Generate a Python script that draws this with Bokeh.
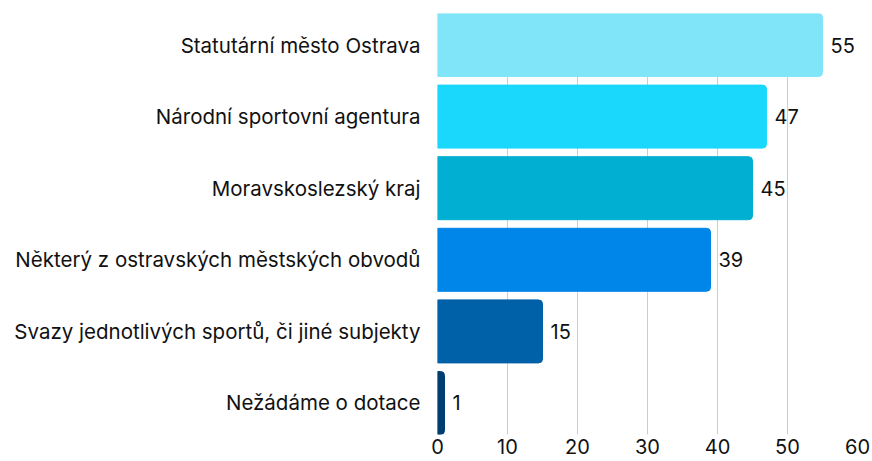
from bokeh.plotting import figure
from bokeh.models import ColumnDataSource, Range1d, FixedTicker
from bokeh.core.properties import value
from bokeh.embed import file_html
from bokeh.resources import INLINE

categories = [
    "Statutární město Ostrava",
    "Národní sportovní agentura",
    "Moravskoslezský kraj",
    "Některý z ostravských městských obvodů",
    "Svazy jednotlivých sportů, či jiné subjekty",
    "Nežádáme o dotace",
]
values = [55, 47, 45, 39, 15, 1]
colors = ["#80E5F8", "#1AD7FC", "#00AFD1", "#0085E8", "#0060A8", "#003E72"]
x_ticks = [0, 10, 20, 30, 40, 50, 60]

FONT = "Inter"
BAR_H = 0.88

n = len(categories)
ypos = [n - 1 - i for i in range(n)]  # first category on top

src = ColumnDataSource(dict(y=ypos, cat=categories, val=values, color=colors,
                            label=[str(v) for v in values]))

p = figure(
    y_range=Range1d(-BAR_H / 2, n - 1 + BAR_H / 2),
    x_range=Range1d(0, 60),
    width=872, height=461,
    min_border_left=437, min_border_top=13, min_border_right=15, min_border_bottom=27,
    output_backend="svg", toolbar_location=None,
)
p.outline_line_color = None
p.background_fill_color = "white"
p.border_fill_color = "white"

p.hbar(y="y", left=0, right="val", height=BAR_H, color="color", source=src,
       border_radius=(0, 4, 4, 0))
p.text(x="val", y="y", text="label", source=src, x_offset=8,
       text_align="left", text_baseline="middle",
       text_font=value(FONT), text_font_size="20px", text_color="#111111")

p.xaxis.ticker = FixedTicker(ticks=x_ticks)
p.xaxis.axis_line_color = None
p.xaxis.major_tick_line_color = None
p.xaxis.major_tick_out = 0
p.xaxis.minor_tick_line_color = None
p.xaxis.major_label_standoff = 4
p.xaxis.major_label_text_font = FONT
p.xaxis.major_label_text_font_size = "20px"
p.xaxis.major_label_text_color = "#111111"

p.yaxis.ticker = FixedTicker(ticks=ypos)
p.yaxis.major_label_overrides = {y: c for y, c in zip(ypos, categories)}
p.yaxis.axis_line_color = None
p.yaxis.major_tick_line_color = None
p.yaxis.major_tick_out = 0
p.yaxis.minor_tick_line_color = None
p.yaxis.major_label_standoff = 17
p.yaxis.major_label_text_font = FONT
p.yaxis.major_label_text_font_size = "20.5px"
p.yaxis.major_label_text_color = "#111111"

p.xgrid.grid_line_color = "#CCCCCC"
p.ygrid.grid_line_color = None

open("out.html", "w").write(file_html(p, INLINE))
